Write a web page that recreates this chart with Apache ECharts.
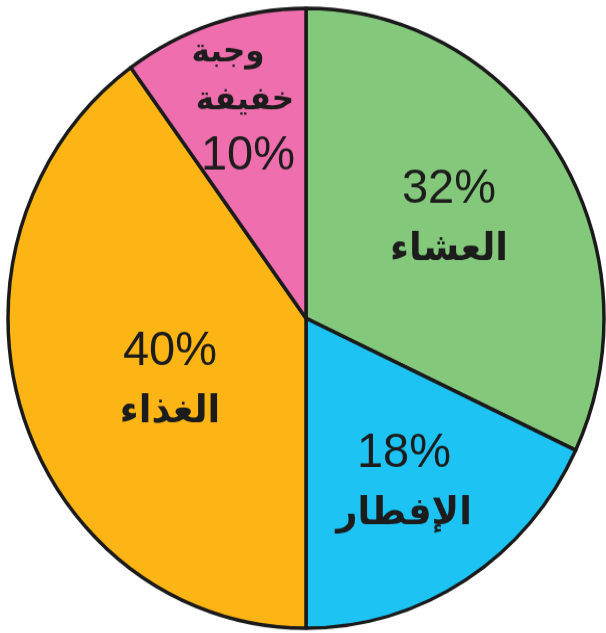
<!DOCTYPE html>
<html>
<head>
<meta charset="utf-8">
<script src="https://cdn.jsdelivr.net/npm/echarts@6/dist/echarts.min.js"></script>
<style>
  html, body { margin: 0; padding: 0; background: #ffffff; }
  body { width: 606px; height: 633px; overflow: visible; }
  /* the pie is drawn slightly taller than wide */
  #chart { width: 606px; height: 609px; transform: scale(1, 1.04); transform-origin: 0 0; }
</style>
</head>
<body>
<div id="chart"></div>
<script>
// Meals of the day, share in percent (clockwise from 12 o'clock)
const meals = ['العشاء', 'الإفطار', 'الغذاء', 'وجبة\nخفيفة'];
const shares = [32, 18, 40, 10];
const colors = ['#84c97b', '#1dc3f2', '#fdb515', '#ee6eae'];

// label anchor points (centre of each text block)
const labelAnchors = [[449, 211], [404, 465], [170, 367], [248, 104]];

const ink = '#1c1c1c';
const pctStyle = { fontFamily: 'Liberation Sans', fontSize: 47, color: ink, lineHeight: 58 };
const nameStyle = { fontFamily: 'DejaVu Sans', fontWeight: 'bold', fontSize: 37, color: ink, lineHeight: 58 };
const smallName = { fontFamily: 'DejaVu Sans', fontWeight: 'bold', fontSize: 31, color: ink };

const chart = echarts.init(document.getElementById('chart'), null, { renderer: 'canvas' });

chart.setOption({
  backgroundColor: '#ffffff',
  animation: false,
  series: [{
    type: 'pie',
    center: [306, 306],
    radius: 298,
    startAngle: 90,
    clockwise: true,
    data: meals.map((m, i) => ({
      name: m,
      value: shares[i],
      itemStyle: { color: colors[i] }
    })),
    itemStyle: { borderColor: '#1a1a1a', borderWidth: 3.5 },
    emphasis: { disabled: true },
    label: {
      show: true,
      position: 'inside',
      formatter: (p) => {
        const parts = p.name.split('\n');
        if (parts.length > 1) {
          return '{n1|' + parts[0] + '}\n{n2|' + parts[1] + '}\n{pct|' + p.value + '%}';
        }
        return '{pct|' + p.value + '%}\n{name|' + p.name + '}';
      },
      rich: {
        pct: pctStyle,
        name: nameStyle,
        n1: Object.assign({}, smallName, { lineHeight: 44, padding: [0, 40, 0, 0] }),
        n2: Object.assign({}, smallName, { lineHeight: 48, padding: [0, 6, 0, 0] })
      }
    },
    labelLine: { show: false },
    labelLayout: (params) => ({
      x: labelAnchors[params.dataIndex][0],
      y: labelAnchors[params.dataIndex][1],
      align: 'center',
      verticalAlign: 'middle'
    })
  }]
});
</script>
</body>
</html>
